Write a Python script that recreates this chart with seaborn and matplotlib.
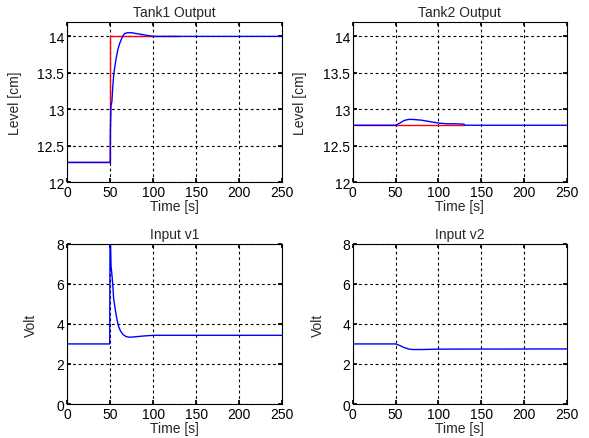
"""
Two-tank level control: step response of tank levels and pump voltages.
Writes out.png (2x2 MATLAB-style subplots).
"""

import matplotlib
matplotlib.use("Agg")
import matplotlib.pyplot as plt
import pandas as pd
import seaborn as sns
from matplotlib.ticker import FormatStrFormatter

# ---------------------------------------------------------------------------
# Data
# ---------------------------------------------------------------------------

# Tank1 reference (red) and measured level (blue)
tank1_ref_t = [0, 49.5, 49.5, 50.2, 50.2, 130]
tank1_ref_y = [12.27, 12.27, 13.14, 13.14, 14.0, 14.0]
tank1_t = [0, 50, 50.3, 51, 52, 53, 54, 55, 57, 59, 61, 63, 65, 67, 70, 75, 80, 90, 100, 250]
tank1_y = [12.27, 12.27, 12.73, 13.05, 13.1, 13.3, 13.45, 13.55, 13.7, 13.82, 13.9,
           13.96, 14.01, 14.04, 14.05, 14.05, 14.04, 14.02, 14.0, 14.0]

# Tank2 reference (red) and measured level (blue)
tank2_ref_t = [0, 130]
tank2_ref_y = [12.78, 12.78]
tank2_t = [0, 50, 55, 60, 65, 70, 80, 90, 100, 110, 120, 130, 131, 250]
tank2_y = [12.78, 12.78, 12.81, 12.845, 12.86, 12.86, 12.85, 12.83, 12.81, 12.8,
           12.8, 12.795, 12.78, 12.78]

# Pump input voltages
v1_t = [0, 49.5, 50, 50.5, 51, 52, 53, 54, 56, 58, 60, 62, 65, 68, 71, 75, 80, 90, 100, 250]
v1_y = [3.0, 3.0, 10.0, 8.0, 6.9, 6.5, 6.0, 5.3, 4.7, 4.2, 3.85, 3.65, 3.47, 3.38,
        3.34, 3.34, 3.36, 3.4, 3.43, 3.43]
v2_t = [0, 50, 55, 60, 65, 70, 80, 100, 250]
v2_y = [3.0, 3.0, 2.92, 2.82, 2.75, 2.72, 2.72, 2.74, 2.75]

time_ticks = [0, 50, 100, 150, 200, 250]
level_ticks = [12, 12.5, 13, 13.5, 14]
volt_ticks = [0, 2, 4, 6, 8]

# ---------------------------------------------------------------------------
# Style
# ---------------------------------------------------------------------------

sns.set_theme(style="ticks")
plt.rcParams["font.family"] = ["Liberation Sans", "DejaVu Sans"]
plt.rcParams["font.size"] = 10

BLUE = "#0000ff"
RED = "#ff0000"
FS = 10


def style_axes(ax, title, ylabel, yticks, ylim, label_x):
    ax.set_xlim(0, 250)
    ax.set_ylim(*ylim)
    ax.set_xticks(time_ticks)
    ax.set_yticks(yticks)
    ax.yaxis.set_major_formatter(FormatStrFormatter("%g"))
    ax.set_title(title, fontsize=FS, pad=4)
    ax.set_xlabel("Time [s]", fontsize=FS, labelpad=0)
    ax.set_ylabel(ylabel, fontsize=FS)
    ax.yaxis.set_label_coords(label_x, 0.5)
    ax.grid(True, color="black", linestyle=(0, (2.5, 2.5)), linewidth=0.8)
    ax.tick_params(direction="in", length=3, top=True, right=True,
                   labelsize=FS, pad=2, colors="black")
    for sp in ax.spines.values():
        sp.set_color("black")
        sp.set_linewidth(0.8)
        sp.set_visible(True)


def draw(ax, t, y, color):
    df = pd.DataFrame({"t": t, "y": y})
    sns.lineplot(data=df, x="t", y="y", ax=ax, color=color, linewidth=1.0,
                 sort=False, estimator=None)


fig = plt.figure(figsize=(5.89, 4.39), dpi=100)
ax1 = fig.add_axes([0.114, 0.583, 0.365, 0.365])
ax2 = fig.add_axes([0.599, 0.583, 0.363, 0.365])
ax3 = fig.add_axes([0.114, 0.0774, 0.365, 0.365])
ax4 = fig.add_axes([0.599, 0.0774, 0.363, 0.365])

draw(ax1, tank1_ref_t, tank1_ref_y, RED)
draw(ax1, tank1_t, tank1_y, BLUE)
style_axes(ax1, "Tank1 Output", "Level [cm]", level_ticks, (12, 14.2), -0.21)

draw(ax2, tank2_ref_t, tank2_ref_y, RED)
draw(ax2, tank2_t, tank2_y, BLUE)
style_axes(ax2, "Tank2 Output", "Level [cm]", level_ticks, (12, 14.2), -0.215)

draw(ax3, v1_t, v1_y, BLUE)
style_axes(ax3, "Input v1", "Volt", volt_ticks, (0, 8), -0.135)

draw(ax4, v2_t, v2_y, BLUE)
style_axes(ax4, "Input v2", "Volt", volt_ticks, (0, 8), -0.13)

fig.savefig("out.png", dpi=100, facecolor="white")
plt.close(fig)
